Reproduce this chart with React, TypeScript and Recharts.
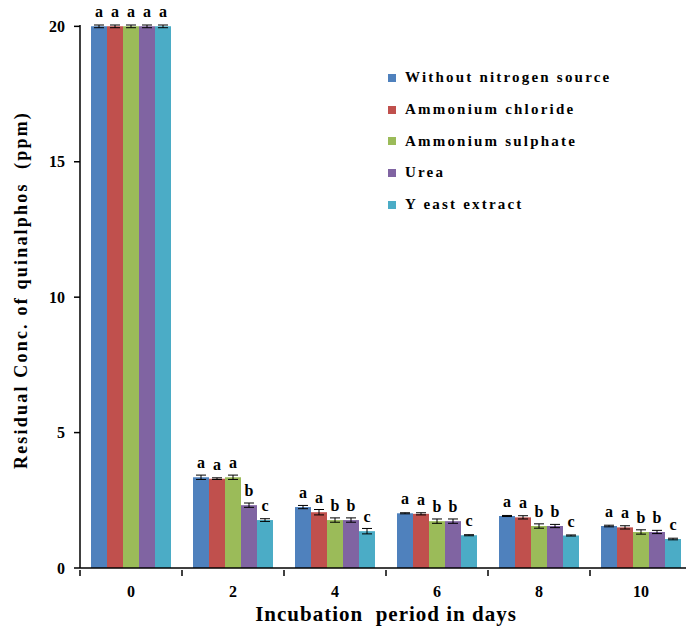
import { Bar, BarChart, ErrorBar, LabelList, Legend, XAxis, YAxis } from "recharts";

const days = ["0", "2", "4", "6", "8", "10"];

const withoutNitrogen = [20, 3.35, 2.25, 2.02, 1.92, 1.55];
const ammoniumChloride = [20, 3.3, 2.06, 2.0, 1.87, 1.5];
const ammoniumSulphate = [20, 3.35, 1.77, 1.73, 1.55, 1.33];
const urea = [20, 2.32, 1.77, 1.73, 1.55, 1.33];
const yeastExtract = [20, 1.77, 1.36, 1.21, 1.2, 1.07];

const withoutNitrogenErr = [0.05, 0.08, 0.06, 0.02, 0.02, 0.03];
const ammoniumChlorideErr = [0.05, 0.03, 0.1, 0.04, 0.06, 0.06];
const ammoniumSulphateErr = [0.05, 0.08, 0.08, 0.08, 0.08, 0.08];
const ureaErr = [0.05, 0.08, 0.08, 0.08, 0.06, 0.06];
const yeastExtractErr = [0.05, 0.05, 0.1, 0.02, 0.02, 0.03];

const withoutNitrogenLetters = ["a", "a", "a", "a", "a", "a"];
const ammoniumChlorideLetters = ["a", "a", "a", "a", "a", "a"];
const ammoniumSulphateLetters = ["a", "a", "b", "b", "b", "b"];
const ureaLetters = ["a", "b", "b", "b", "b", "b"];
const yeastExtractLetters = ["a", "c", "c", "c", "c", "c"];

const series = [
  { key: "s1", name: "Without nitrogen source", color: "#4f81bd", values: withoutNitrogen, err: withoutNitrogenErr, letters: withoutNitrogenLetters },
  { key: "s2", name: "Ammonium chloride", color: "#c0504d", values: ammoniumChloride, err: ammoniumChlorideErr, letters: ammoniumChlorideLetters },
  { key: "s3", name: "Ammonium sulphate", color: "#9bbb59", values: ammoniumSulphate, err: ammoniumSulphateErr, letters: ammoniumSulphateLetters },
  { key: "s4", name: "Urea", color: "#8064a2", values: urea, err: ureaErr, letters: ureaLetters },
  { key: "s5", name: "Y east extract", color: "#4bacc6", values: yeastExtract, err: yeastExtractErr, letters: yeastExtractLetters },
];

const data = days.map((day, i) => {
  const row: Record<string, string | number> = { day };
  series.forEach((s) => {
    row[s.key] = s.values[i];
    row[s.key + "Err"] = s.err[i];
    row[s.key + "Letter"] = s.letters[i];
  });
  return row;
});

const FONT = '"Liberation Serif", "Times New Roman", serif';
const CHART_W = 692;
const AXIS_W = 80;
const HALF_BAND = (CHART_W - AXIS_W) / days.length / 2;

function DayTick(props: any) {
  const { x, y, payload } = props;
  return (
    <g>
      <line x1={x - HALF_BAND} x2={x - HALF_BAND} y1={y} y2={y + 6} stroke="#000" strokeWidth={1.5} />
      <text x={x} y={y + 27} textAnchor="middle" fontFamily={FONT} fontWeight="bold" fontSize={16} fill="#000">
        {payload.value}
      </text>
    </g>
  );
}

function LegendBox() {
  return (
    <div style={{ fontFamily: FONT, fontWeight: "bold", fontSize: 15, letterSpacing: 2.2, color: "#000" }}>
      {series.map((s) => (
        <div key={s.key} style={{ display: "flex", alignItems: "center", height: 31.7 }}>
          <span style={{ width: 8, height: 8, background: s.color, marginRight: 9, display: "inline-block" }} />
          {s.name}
        </div>
      ))}
    </div>
  );
}

export default function App() {
  return (
    <div style={{ width: 686, height: 627, overflow: "hidden", position: "relative", background: "#fff" }}>
      <style>{"body{margin:0}"}</style>
      <BarChart
        width={CHART_W}
        height={627}
        data={data}
        margin={{ top: 25, right: 0, bottom: 0, left: 0 }}
        barSize={16}
        barGap={0}
      >
        <XAxis
          dataKey="day"
          height={59}
          axisLine={{ stroke: "#000", strokeWidth: 1.5 }}
          tickLine={false}
          tickSize={0}
          tick={<DayTick />}
          interval={0}
        />
        <YAxis
          width={AXIS_W}
          domain={[0, 20]}
          ticks={[0, 5, 10, 15, 20]}
          axisLine={{ stroke: "#000", strokeWidth: 1.5 }}
          tickLine={{ stroke: "#000", strokeWidth: 1.5 }}
          tickSize={6}
          tickMargin={9}
          tick={{ fontFamily: FONT, fontWeight: "bold", fontSize: 16, fill: "#000" }}
        />
        <Legend
          layout="vertical"
          verticalAlign="middle"
          align="center"
          content={<LegendBox />}
          wrapperStyle={{ top: 62, left: 388, width: 300 }}
        />
        {series.map((s) => (
          <Bar key={s.key} dataKey={s.key} name={s.name} fill={s.color} isAnimationActive={false}>
            <ErrorBar dataKey={s.key + "Err"} width={5} stroke="#000" strokeWidth={1} direction="y" />
            <LabelList
              dataKey={s.key + "Letter"}
              position="top"
              offset={9}
              style={{ fontFamily: FONT, fontWeight: "bold", fontSize: 16, fill: "#000" }}
            />
          </Bar>
        ))}
        <text
          x={386}
          y={621}
          textAnchor="middle"
          fontFamily={FONT}
          fontWeight="bold"
          fontSize={21}
          letterSpacing={1.0}
          style={{ whiteSpace: "pre" }}
        >
          Incubation  period in days
        </text>
        <text
          x={0}
          y={0}
          transform="translate(27 290) rotate(-90)"
          textAnchor="middle"
          fontFamily={FONT}
          fontWeight="bold"
          fontSize={18}
          letterSpacing={2.2}
          style={{ whiteSpace: "pre" }}
        >
          Residual Conc. of quinalphos  (ppm)
        </text>
      </BarChart>
    </div>
  );
}
